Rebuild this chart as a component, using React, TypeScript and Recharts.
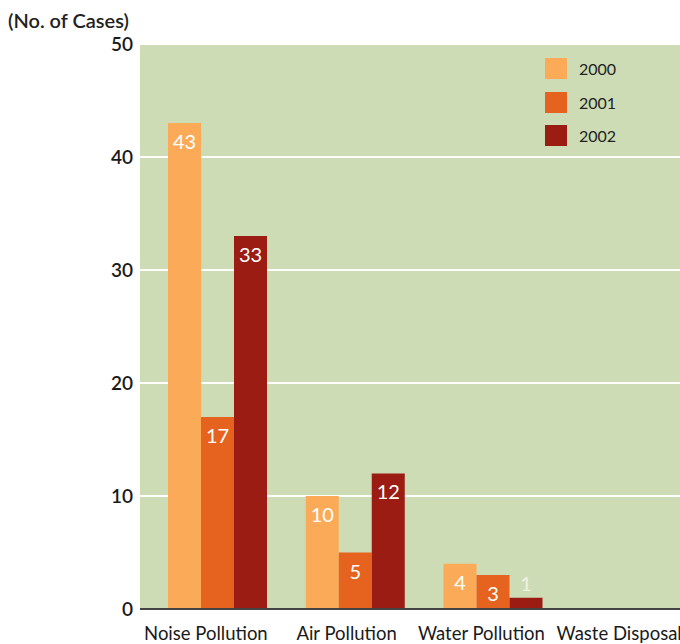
import React from "react";
import { BarChart, Bar, XAxis, YAxis, CartesianGrid, LabelList } from "recharts";

const categories = ["Noise Pollution", "Air Pollution", "Water Pollution", "Waste Disposal"];
const series2000 = [43, 10, 4, 0];
const series2001 = [17, 5, 3, 0];
const series2002 = [33, 12, 1, 0];
const yTicks = [0, 10, 20, 30, 40, 50];
const seriesNames = ["2000", "2001", "2002"];

const colors = ["#fbab58", "#e6631f", "#9a1c12"];
const tickShift = [-12, -9, -12, -12];

const data = categories.map((c, i) => ({
  name: c,
  y2000: series2000[i],
  y2001: series2001[i],
  y2002: series2002[i],
}));

const FONT = "Lato, 'Open Sans', sans-serif";

const renderLabel = (props: any) => {
  const { x, y, width, height, value } = props;
  if (!value) return null;
  const inside = height > 22;
  return (
    <text
      x={x + width / 2}
      y={inside ? y + 18 : y - 15}
      fill={inside ? "#ffffff" : "#eef2e4"}
      textAnchor="middle"
      dominantBaseline="central"
      fontFamily={FONT}
      fontSize={20}
    >
      {value}
    </text>
  );
};

const XTick = (props: any) => {
  const { x, y, payload, index } = props;
  return (
    <text
      x={x + (tickShift[index] ?? 0)}
      y={y + 16}
      textAnchor="middle"
      dominantBaseline="central"
      fill="#1a1a1a"
      fontFamily={FONT}
      fontSize={18.5}
    >
      {payload.value}
    </text>
  );
};

export default function App() {
  return (
    <div style={{ position: "absolute", left: 0, top: 0, width: 680, height: 644, overflow: "hidden", background: "#fff" }}>
      <div style={{ position: "absolute", left: 8, top: 7, lineHeight: "26px", fontFamily: FONT, fontSize: 20, color: "#222", fontWeight: 600 }}>
        (No. of Cases)
      </div>
      <BarChart
        width={700}
        height={644}
        data={data}
        margin={{ top: 44, right: 0, bottom: 0, left: 0 }}
        barGap={0}
        barCategoryGap={19}
      >
        <CartesianGrid vertical={false} stroke="#ffffff" strokeWidth={2} fill="#cddcb5" />
        <XAxis
          dataKey="name"
          height={35}
          padding={{ left: 9, right: 0 }}
          tickLine={false}
          axisLine={{ stroke: "#444", strokeWidth: 2 }}
          tick={<XTick />}
          interval={0}
        />
        <YAxis
          width={140}
          domain={[0, 50]}
          ticks={yTicks}
          tickLine={false}
          axisLine={false}
          tickMargin={1}
          tick={{ fill: "#1a1a1a", fontFamily: FONT, fontSize: 19, fontWeight: 600 }}
        />
        <Bar dataKey="y2000" name="2000" fill={colors[0]} isAnimationActive={false}>
          <LabelList dataKey="y2000" content={renderLabel} />
        </Bar>
        <Bar dataKey="y2001" name="2001" fill={colors[1]} isAnimationActive={false}>
          <LabelList dataKey="y2001" content={renderLabel} />
        </Bar>
        <Bar dataKey="y2002" name="2002" fill={colors[2]} isAnimationActive={false}>
          <LabelList dataKey="y2002" content={renderLabel} />
        </Bar>
      </BarChart>
      <div style={{ position: "absolute", left: 545, top: 52, fontFamily: FONT }}>
        {seriesNames.map((n, i) => (
          <div key={n} style={{ display: "flex", alignItems: "center", height: 33.5 }}>
            <div style={{ width: 22, height: 21, background: colors[i], marginRight: 12 }} />
            <span style={{ fontSize: 16, color: "#222" }}>{n}</span>
          </div>
        ))}
      </div>
    </div>
  );
}
